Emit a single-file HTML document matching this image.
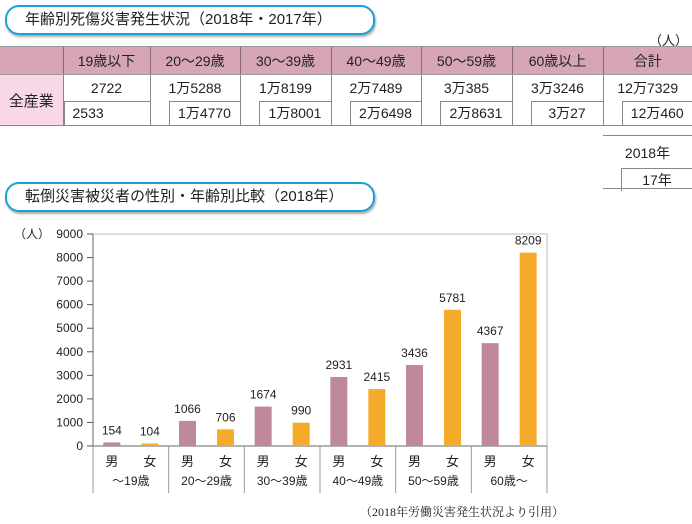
<!DOCTYPE html>
<html><head><meta charset="utf-8">
<style>
body{margin:0;width:692px;height:524px;background:#fff;font-family:"Liberation Sans","Noto Sans CJK JP",sans-serif;color:#222;position:relative;overflow:hidden}
.title{position:absolute;left:5px;width:348px;height:26px;border:2.5px solid #1aa0d8;border-radius:14px;box-shadow:1px 2px 2px #aaa;font-size:15px;line-height:26px;padding-left:18px;box-sizing:content-box}
.abs{position:absolute}
table{position:absolute;left:0;top:46px;width:692px;border-collapse:collapse;font-size:14px;table-layout:fixed}
td{text-align:center;padding:0;overflow:hidden}
.hd td{background:#d7a6b6;height:27px;border-top:1px solid #999;border-bottom:1px solid #999}
.hd td+td{border-left:1px solid #8a6a74}
.r1 td{height:26px;border-left:1px solid #888}
.r2 td{height:24px;border-left:1px solid #888;border-bottom:1px solid #888}
.lab{background:#f8d8e6;border-left:none!important;border-bottom:1px solid #888}
.box{margin-left:18px;border:1px solid #888;border-bottom:none;border-right:none;height:23px;line-height:23px;background:#fff}
</style></head><body>
<div class="title" style="top:5px">年齢別死傷災害発生状況（2018年・2017年）</div>
<div class="abs" style="right:4px;top:30px;font-size:13px">（人）</div>
<table>
<colgroup><col style="width:63px"><col style="width:87px"><col style="width:90px"><col style="width:91px"><col style="width:90px"><col style="width:91px"><col style="width:91px"><col style="width:89px"></colgroup>
<tr class="hd"><td></td><td>19歳以下</td><td>20～29歳</td><td>30～39歳</td><td>40～49歳</td><td>50～59歳</td><td>60歳以上</td><td>合計</td></tr>
<tr class="r1"><td class="lab" rowspan="2" style="font-size:15px">全産業</td><td>2722</td><td>1万5288</td><td>1万8199</td><td>2万7489</td><td>3万385</td><td>3万3246</td><td>12万7329</td></tr>
<tr class="r2"><td><div class="box" style="margin-left:0;text-align:left;padding-left:8px">2533</div></td><td><div class="box">1万4770</div></td><td><div class="box">1万8001</div></td><td><div class="box">2万6498</div></td><td><div class="box">2万8631</div></td><td><div class="box">3万27</div></td><td><div class="box">12万460</div></td></tr>
</table>
<div class="abs" style="left:603px;top:135px;width:89px;border-top:1px solid #888;height:52px;border-bottom:1px solid #888">
<div style="text-align:center;font-size:14px;margin-top:7px">2018年</div>
<div style="margin-left:18px;margin-top:5px;border:1px solid #888;border-bottom:none;border-right:none;height:22px;line-height:22px;text-align:center;font-size:14px">17年</div>
</div>
<div class="title" style="top:182px">転倒災害被災者の性別・年齢別比較（2018年）</div>
<svg class="abs" style="left:0;top:0" width="692" height="524" id="chart"></svg>
<div class="abs" style="left:360px;top:503px;font-size:12px;font-family:'Liberation Serif','Noto Serif CJK SC',serif">（2018年労働災害発生状況より引用）</div>
<script>
const groups=["～19歳","20～29歳","30～39歳","40～49歳","50～59歳","60歳～"];
const male=[154,1066,1674,2931,3436,4367];
const female=[104,706,990,2415,5781,8209];
const ticks=[0,1000,2000,3000,4000,5000,6000,7000,8000,9000];
const NS="http://www.w3.org/2000/svg",svg=document.getElementById('chart');
const x0=93,x1=547,yT=234,yB=446,vmax=9000;
const y=v=>yB-(v/vmax)*(yB-yT);
const gw=(x1-x0)/groups.length;
const gx=i=>x0+gw*(i+0.5);
function mk(t,a,txt){const e=document.createElementNS(NS,t);for(const k in a)e.setAttribute(k,a[k]);if(txt!=null)e.textContent=txt;svg.appendChild(e);return e;}
let e=mk('rect',{x:x0,y:yT,width:x1-x0,height:yB-yT,fill:'#fff',stroke:'#ddd','stroke-width':2});


e=mk('line',{x1:x0,y1:yT,x2:x0,y2:yB,stroke:'#888'});


ticks.forEach(t=>{
 let l=mk('line',{x1:x0-6,x2:x0,y1:y(t),y2:y(t),stroke:'#555'});
 
 
 let tx=mk('text',{x:x0-10,y:y(t)+4,'text-anchor':'end','font-size':12,fill:'#222'},t);
 
 
});
e=mk('text',{x:14,y:238,'font-size':12,fill:'#222'},'（人）');


e=mk('line',{x1:x0,y1:yB,x2:x1,y2:yB,stroke:'#888'});


for(let i=0;i<=groups.length;i++){
 let l=mk('line',{x1:x0+gw*i,x2:x0+gw*i,y1:yB,y2:493,stroke:'#999'});
 
 
}
const bw=17;
groups.forEach((g,i)=>{
 [[male[i],-19,'#c0889b','男','male'],[female[i],19,'#f4aa2a','女','female']].forEach(([v,off,c,lab,nm])=>{
  const cx=gx(i)+off;
  let r=mk('rect',{x:cx-bw/2,y:y(v),width:bw,height:yB-y(v),fill:c});
  
  
  let t=mk('text',{x:cx,y:y(v)-8,'text-anchor':'middle','font-size':12,fill:'#222'},v);
  
  
  let s=mk('text',{x:cx,y:466,'text-anchor':'middle','font-size':13,fill:'#222'},lab);
  
  
 });
 let a=mk('text',{x:gx(i),y:485,'text-anchor':'middle','font-size':12,fill:'#222'},g);
 
 
});
</script>
</body></html>
